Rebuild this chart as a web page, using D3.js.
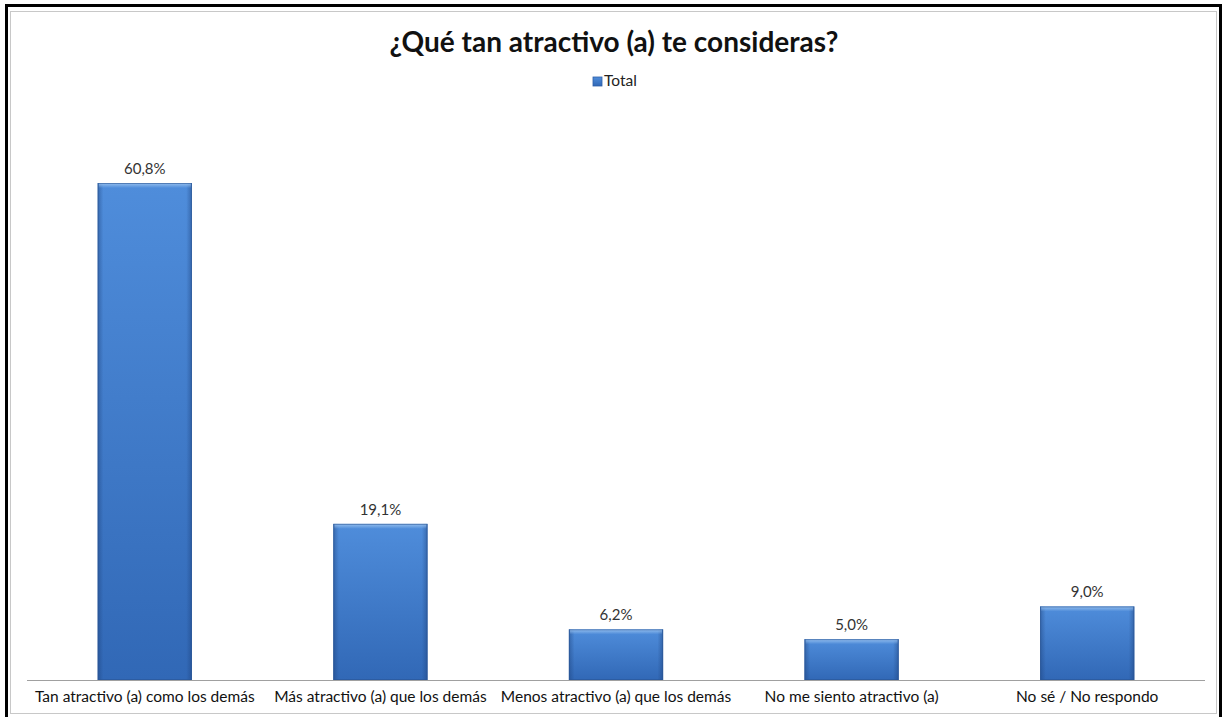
<!DOCTYPE html>
<html>
<head>
<meta charset="utf-8">
<script src="https://cdn.jsdelivr.net/npm/d3@7"></script>
<style>
  html, body { margin: 0; padding: 0; background: #fff; }
  svg { display: block; }
  text { font-family: Lato, "Open Sans", "Liberation Sans", sans-serif; }
</style>
</head>
<body>
<svg id="chart" width="1223" height="717"></svg>
<script>
const title = "¿Qué tan atractivo (a) te consideras?";
const seriesName = "Total";
const categories = [
  "Tan atractivo (a) como los demás",
  "Más atractivo (a) que los demás",
  "Menos atractivo (a) que los demás",
  "No me siento atractivo (a)",
  "No sé / No respondo"
];
const values = [60.8, 19.1, 6.2, 5.0, 9.0];
const valueLabels = ["60,8%", "19,1%", "6,2%", "5,0%", "9,0%"];

const svg = d3.select("#chart");
const W = 1223, H = 717;

// frame
svg.append("rect").attr("x", 6.5).attr("y", 5.5).attr("width", 1214).attr("height", H + 10)
  .attr("fill", "#fff").attr("stroke", "#000").attr("stroke-width", 3);
svg.append("rect").attr("x", 10.5).attr("y", 11.5).attr("width", 1206).attr("height", 702)
  .attr("fill", "none").attr("stroke", "#c8c8c8").attr("stroke-width", 1);

// defs: gradients
const defs = svg.append("defs");
const gv = defs.append("linearGradient").attr("id", "barV").attr("x1", 0).attr("y1", 0).attr("x2", 0).attr("y2", 1);
gv.append("stop").attr("offset", "0%").attr("stop-color", "#4f8ddb");
gv.append("stop").attr("offset", "100%").attr("stop-color", "#3168b6");
const gh = defs.append("linearGradient").attr("id", "barH").attr("x1", 0).attr("y1", 0).attr("x2", 1).attr("y2", 0);
gh.append("stop").attr("offset", "0%").attr("stop-color", "#1c3f78").attr("stop-opacity", 0.45);
gh.append("stop").attr("offset", "6%").attr("stop-color", "#1c3f78").attr("stop-opacity", 0);
gh.append("stop").attr("offset", "94%").attr("stop-color", "#1c3f78").attr("stop-opacity", 0);
gh.append("stop").attr("offset", "100%").attr("stop-color", "#1c3f78").attr("stop-opacity", 0.45);
const gt = defs.append("linearGradient").attr("id", "barT").attr("x1", 0).attr("y1", 0).attr("x2", 0).attr("y2", 1);
gt.append("stop").attr("offset", "0%").attr("stop-color", "#9cc4f0").attr("stop-opacity", 0.9);
gt.append("stop").attr("offset", "100%").attr("stop-color", "#9cc4f0").attr("stop-opacity", 0);

// title
svg.append("text").attr("x", 614).attr("y", 52).attr("text-anchor", "middle")
  .attr("font-size", 28).attr("font-weight", "bold").attr("fill", "#111").text(title);

// legend
const lg = svg.append("g");
lg.append("rect").attr("x", 593).attr("y", 77).attr("width", 9).attr("height", 9)
  .attr("fill", "url(#barV)").attr("stroke", "#2d5fa8").attr("stroke-width", 0.8);
lg.append("text").attr("x", 604).attr("y", 86).attr("font-size", 15.5).attr("fill", "#222").text(seriesName);

// scales
const x = d3.scaleBand().domain(categories).range([27, 1205]).paddingInner(0.6).paddingOuter(0.3);
const y = d3.scaleLinear().domain([0, 70]).range([680, 107.8]);

// bars
const bars = svg.append("g").selectAll("g").data(categories).join("g");
bars.append("rect")
  .attr("x", d => x(d)).attr("y", (d, i) => y(values[i]))
  .attr("width", x.bandwidth()).attr("height", (d, i) => y(0) - y(values[i]))
  .attr("fill", "url(#barV)");
bars.append("rect")
  .attr("x", d => x(d)).attr("y", (d, i) => y(values[i]))
  .attr("width", x.bandwidth()).attr("height", (d, i) => y(0) - y(values[i]))
  .attr("fill", "url(#barH)");
bars.append("rect")
  .attr("x", d => x(d) + 1).attr("y", (d, i) => y(values[i]))
  .attr("width", x.bandwidth() - 2).attr("height", 5)
  .attr("fill", "url(#barT)");
bars.append("rect")
  .attr("x", d => x(d) + 0.5).attr("y", (d, i) => y(values[i]) + 0.5)
  .attr("width", x.bandwidth() - 1).attr("height", (d, i) => y(0) - y(values[i]) - 1)
  .attr("fill", "none").attr("stroke", "#2a5595").attr("stroke-width", 1).attr("stroke-opacity", 0.6);

// value labels
svg.append("g").selectAll("text").data(categories).join("text")
  .attr("x", d => x(d) + x.bandwidth() / 2)
  .attr("y", (d, i) => y(values[i]) - 9)
  .attr("text-anchor", "middle").attr("font-size", 15).attr("fill", "#333")
  .text((d, i) => valueLabels[i]);

// x axis
const xAxis = svg.append("g").attr("transform", "translate(0,680)")
  .call(d3.axisBottom(x).tickSize(0).tickPadding(11));
xAxis.select(".domain").attr("stroke", "#a0a0a0").attr("d", "M27,0.5H1205");
xAxis.selectAll("text").attr("font-size", 15.5).attr("fill", "#111")
  .style("font-family", "Lato, 'Open Sans', sans-serif");
</script>
</body>
</html>
